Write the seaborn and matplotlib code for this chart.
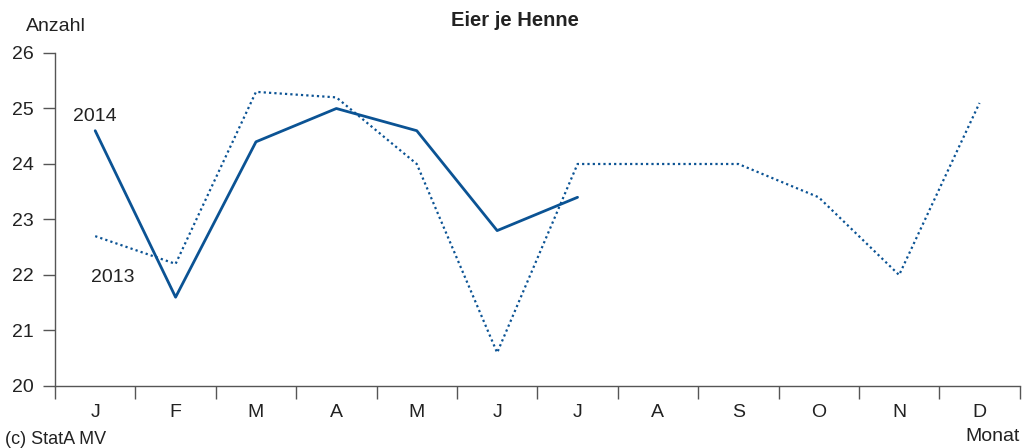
import matplotlib
matplotlib.use('Agg')
import matplotlib.pyplot as plt
from matplotlib.ticker import FixedLocator
import seaborn as sns
import pandas as pd


months = ['J', 'F', 'M', 'A', 'M', 'J', 'J', 'A', 'S', 'O', 'N', 'D']
eier_2013 = [22.7, 22.2, 25.3, 25.2, 24.0, 20.6, 24.0, 24.0, 24.0, 23.4, 22.0, 25.1]
eier_2014 = [24.6, 21.6, 24.4, 25.0, 24.6, 22.8, 23.4]
y_ticks = [20, 21, 22, 23, 24, 25, 26]

blue = '#0b5394'

df13 = pd.DataFrame({'monat': range(len(eier_2013)), 'wert': eier_2013})
df14 = pd.DataFrame({'monat': range(len(eier_2014)), 'wert': eier_2014})

sns.set_style('white')
plt.rcParams['font.family'] = ['Liberation Sans', 'DejaVu Sans']

fig = plt.figure(figsize=(10.3, 4.48), dpi=100)
ax = fig.add_axes([0.0534, 0.1384, 0.9366, 0.7433])

sns.lineplot(data=df13, x='monat', y='wert', ax=ax, color=blue, lw=1.6,
             linestyle=(0, (1, 1.4)), sort=False)
sns.lineplot(data=df14, x='monat', y='wert', ax=ax, color=blue, lw=2.0, sort=False)

ax.set_xlim(-0.5, 11.5)
ax.set_ylim(20, 26)
ax.set_yticks(y_ticks)
ax.set_yticklabels([str(v) for v in y_ticks], fontsize=14, color='#222222')

# boundaries between months as ticks, labels centred in each month
ax.xaxis.set_major_locator(FixedLocator([i - 0.5 for i in range(len(months) + 1)]))
ax.xaxis.set_major_formatter(plt.NullFormatter())
ax.xaxis.set_minor_locator(FixedLocator(list(range(len(months)))))
ax.set_xticklabels(months, minor=True, fontsize=14, color='#222222')
ax.tick_params(axis='x', which='major', direction='out', length=9, width=1, color='#555555', bottom=True)
ax.tick_params(axis='x', which='minor', length=0, pad=13, bottom=True)
ax.tick_params(axis='y', direction='out', length=9, width=1, color='#555555', pad=6, left=True)

for side in ['top', 'right']:
    ax.spines[side].set_visible(False)
for side in ['left', 'bottom']:
    ax.spines[side].set_color('#555555')
    ax.spines[side].set_linewidth(1)

ax.set_xlabel('')
ax.set_ylabel('')

ax.text(0, 24.85, '2014', ha='center', va='center', fontsize=14, color='#222222')
ax.text(0.22, 21.95, '2013', ha='center', va='center', fontsize=14, color='#222222')

fig.text(0.5, 0.955, 'Eier je Henne', ha='center', va='center', fontsize=14.5,
         fontweight='bold', color='#222222')
fig.text(0.054, 0.94, 'Anzahl', ha='center', va='center', fontsize=14, color='#222222')
fig.text(0.99, 0.025, 'Monat', ha='right', va='center', fontsize=14, color='#222222')
fig.text(0.005, 0.018, '(c) StatA MV', ha='left', va='center', fontsize=13, color='#222222')

plt.savefig('out.png', dpi=100)
plt.close()
